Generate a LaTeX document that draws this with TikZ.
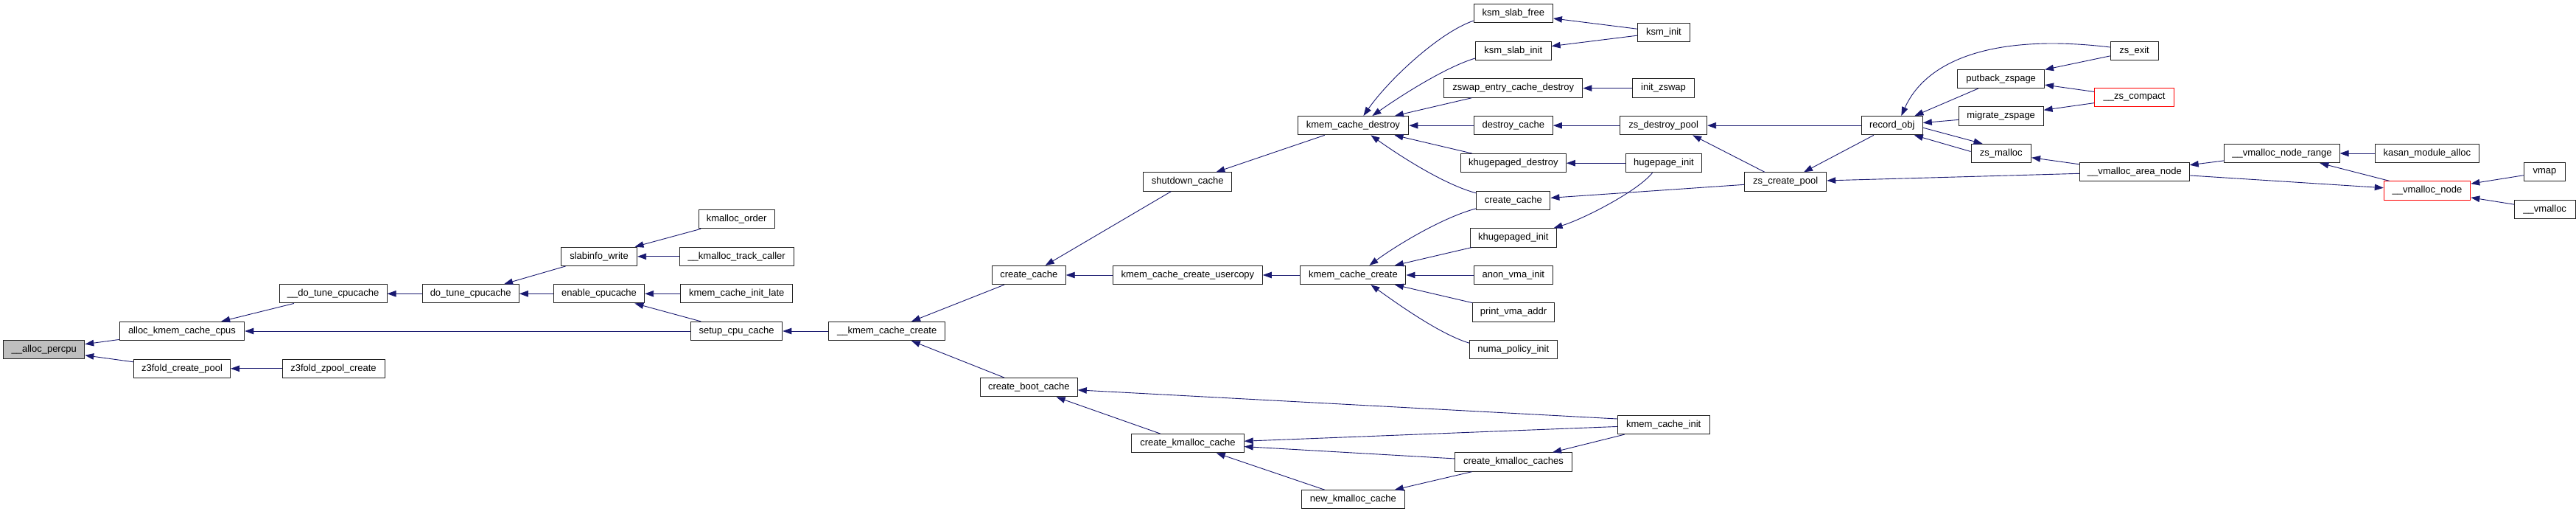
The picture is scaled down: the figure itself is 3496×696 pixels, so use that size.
\documentclass[tikz,border=0pt]{standalone}
\usepackage{fontspec}
\setmainfont{Liberation Sans}
\usetikzlibrary{arrows.meta,calc}
\definecolor{edgeblue}{HTML}{191970}
\definecolor{rootgray}{HTML}{BFBFBF}
\definecolor{borderc}{HTML}{202020}
\tikzset{
  fn/.style={draw=borderc, line width=1pt, fill=white, minimum height=25.3pt,
    inner sep=0pt, font=\fontsize{13}{15}\selectfont},
  fnred/.style={fn, draw=red},
  fnroot/.style={fn, fill=rootgray},
  edge/.style={draw=edgeblue, line width=0.9pt, {Triangle[length=12pt,width=8.5pt]}-}
}
\begin{document}
\begin{tikzpicture}[x=1pt,y=-1pt]
\useasboundingbox (0,0) rectangle (3496,696);
% nodes
\node[fnroot, minimum width=110.2pt] (ap) at (59.7,474.2) {\_\_alloc\_percpu};
\node[fn, minimum width=169.6pt] (akc) at (247,449.0) {alloc\_kmem\_cache\_cpus};
\node[fn, minimum width=131.2pt] (zcp) at (247,499.8) {z3fold\_create\_pool};
\node[fn, minimum width=145.8pt] (dtc2) at (452.1,398.3) {\_\_do\_tune\_cpucache};
\node[fn, minimum width=139pt] (zzc) at (452.5,499.8) {z3fold\_zpool\_create};
\node[fn, minimum width=131.4pt] (dtc) at (638.7,398.3) {do\_tune\_cpucache};
\node[fn, minimum width=103.3pt] (sw) at (813,347.8) {slabinfo\_write};
\node[fn, minimum width=123.3pt] (ec) at (813,398.3) {enable\_cpucache};
\node[fn, minimum width=103pt] (ko) at (999.6,297.2) {kmalloc\_order};
\node[fn, minimum width=155pt] (ktc) at (999.6,347.8) {\_\_kmalloc\_track\_caller};
\node[fn, minimum width=152.3pt] (kcil) at (999.7,398.3) {kmem\_cache\_init\_late};
\node[fn, minimum width=124.4pt] (scc) at (999.6,449.0) {setup\_cpu\_cache};
\node[fn, minimum width=157.6pt] (kcc2) at (1203.7,449.0) {\_\_kmem\_cache\_create};
\node[fn, minimum width=99.8pt] (cc1) at (1396.3,373.0) {create\_cache};
\node[fn, minimum width=132pt] (bc) at (1396.3,525.3) {create\_boot\_cache};
\node[fn, minimum width=120.5pt] (sc) at (1611.7,246.5) {shutdown\_cache};
\node[fn, minimum width=202.8pt] (kccu) at (1611.9,373.0) {kmem\_cache\_create\_usercopy};
\node[fn, minimum width=152.3pt] (ckc) at (1612,601.2) {create\_kmalloc\_cache};
\node[fn, minimum width=150.8pt] (kcd) at (1836.4,170.2) {kmem\_cache\_destroy};
\node[fn, minimum width=143.1pt] (kcc) at (1836.4,373.0) {kmem\_cache\_create};
\node[fn, minimum width=140.8pt] (nkc) at (1836.4,677.3) {new\_kmalloc\_cache};
\node[fn, minimum width=107.2pt] (ksf) at (2053.8,18.2) {ksm\_slab\_free};
\node[fn, minimum width=102.6pt] (ksi) at (2053.8,69.0) {ksm\_slab\_init};
\node[fn, minimum width=188.2pt] (zecd) at (2053.8,119.6) {zswap\_entry\_cache\_destroy};
\node[fn, minimum width=107.2pt] (dc) at (2053.8,170.2) {destroy\_cache};
\node[fn, minimum width=143.2pt] (khd) at (2053.8,221.2) {khugepaged\_destroy};
\node[fn, minimum width=100.2pt] (cc2) at (2053.8,271.8) {create\_cache};
\node[fn, minimum width=116.4pt] (khi) at (2053.8,322.4) {khugepaged\_init};
\node[fn, minimum width=107.2pt] (avi) at (2053.8,373.0) {anon\_vma\_init};
\node[fn, minimum width=110.6pt] (pva) at (2054,423.6) {print\_vma\_addr};
\node[fn, minimum width=118.6pt] (npi) at (2053.8,474.2) {numa\_policy\_init};
\node[fn, minimum width=158.8pt] (ckcs) at (2054,626.5) {create\_kmalloc\_caches};
\node[fn, minimum width=70.7pt] (ki) at (2258,43.7) {ksm\_init};
\node[fn, minimum width=84.5pt] (iz) at (2257.5,119.6) {init\_zswap};
\node[fn, minimum width=117.9pt] (zdp) at (2257.7,170.2) {zs\_destroy\_pool};
\node[fn, minimum width=102.9pt] (hi) at (2258,221.2) {hugepage\_init};
\node[fn, minimum width=124.7pt] (kci) at (2257.7,576.0) {kmem\_cache\_init};
\node[fn, minimum width=111.3pt] (zcp2) at (2423.1,246.5) {zs\_create\_pool};
\node[fn, minimum width=83pt] (ro) at (2567.8,170.2) {record\_obj};
\node[fn, minimum width=117.9pt] (pz) at (2715.6,106.8) {putback\_zspage};
\node[fn, minimum width=114.8pt] (mz) at (2715.7,157.4) {migrate\_zspage};
\node[fn, minimum width=81.5pt] (zm) at (2715.8,208.0) {zs\_malloc};
\node[fn, minimum width=64.9pt] (ze) at (2896.6,69.0) {zs\_exit};
\node[fnred, minimum width=107.8pt] (zc) at (2896.6,132.0) {\_\_zs\_compact};
\node[fn, minimum width=148.8pt] (van) at (2896.8,233.2) {\_\_vmalloc\_area\_node};
\node[fn, minimum width=156.1pt] (vnr) at (3097,208.0) {\_\_vmalloc\_node\_range};
\node[fn, minimum width=140.8pt] (kma) at (3293.8,208.0) {kasan\_module\_alloc};
\node[fnred, minimum width=117.5pt] (vn) at (3294,258.5) {\_\_vmalloc\_node};
\node[fn, minimum width=55.5pt] (vmap) at (3453.5,233.2) {vmap};
\node[fn, minimum width=82.7pt] (vm) at (3453.7,283.8) {\_\_vmalloc};
% edges
\draw[edge] (ap) -- (akc);
\draw[edge] (ap) -- (zcp);
\draw[edge] (akc) -- (dtc2);
\draw[edge] (akc) -- (scc);
\draw[edge] (zcp) -- (zzc);
\draw[edge] (dtc2) -- (dtc);
\draw[edge] (dtc) -- (sw);
\draw[edge] (dtc) -- (ec);
\draw[edge] (sw) -- (ko);
\draw[edge] (sw) -- (ktc);
\draw[edge] (ec) -- (kcil);
\draw[edge] (ec) -- (scc);
\draw[edge] (scc) -- (kcc2);
\draw[edge] (kcc2) -- (cc1);
\draw[edge] (kcc2) -- (bc);
\draw[edge] (cc1) -- (sc);
\draw[edge] (cc1) -- (kccu);
\draw[edge] (sc) -- (kcd);
\draw[edge] (kccu) -- (kcc);
\draw[edge] (bc) -- ($(kci.west)+(0,-8)$);
\draw[edge] (bc) -- (ckc);
\draw[edge] (ckc) -- (kci);
\draw[edge] (ckc) -- (ckcs);
\draw[edge] (ckc) -- (nkc);
\draw[edge] (nkc) -- (ckcs);
\draw[edge] (ckcs) -- (kci);
\draw[edge] ($(kcd.north)+(14,0)$) .. controls +(35,-50) and +(-45,15) .. ($(ksf.west)+(0,10)$);
\draw[edge] ($(kcd.north)+(26,0)$) .. controls +(40,-28) and +(-40,12) .. ($(ksi.west)+(0,10)$);
\draw[edge] (kcd) -- (zecd);
\draw[edge] (kcd) -- (dc);
\draw[edge] (kcd) -- (khd);
\draw[edge] ($(kcd.south)+(24,0)$) .. controls +(35,25) and +(-45,-12) .. ($(cc2.west)+(0,-10)$);
\draw[edge] ($(kcc.north)+(22,0)$) .. controls +(38,-28) and +(-45,12) .. ($(cc2.west)+(0,11)$);
\draw[edge] (kcc) -- (khi);
\draw[edge] (kcc) -- (avi);
\draw[edge] (kcc) -- (pva);
\draw[edge] ($(kcc.south)+(24,0)$) .. controls +(35,25) and +(-40,-12) .. ($(npi.west)+(0,-9)$);
\draw[edge] (ksf) -- (ki);
\draw[edge] (ksi) -- (ki);
\draw[edge] (zecd) -- (iz);
\draw[edge] (dc) -- (zdp);
\draw[edge] (khd) -- (hi);
\draw[edge] ($(khi.north east)+(-4,0)$) .. controls +(40,-12) and +(-20,25) .. ($(hi.south)+(-15.5,0)$);
\draw[edge] (cc2) -- (zcp2);
\draw[edge] (zdp) -- (ro);
\draw[edge] ($(zdp.south east)+(-20,0)$) -- ($(zcp2.north west)+(28,0)$);
\draw[edge] (zcp2) -- (ro);
\draw[edge] (zcp2) -- (van);
\draw[edge] ($(ro.north)+(12.5,0)$) .. controls +(34.8,-77.6) and +(-154.2,-18.5) .. ($(ze.west)+(0,-5)$);
\draw[edge] (ro) -- (pz);
\draw[edge] (ro) -- (mz);
\draw[edge] ($(zm.north west)+(16,0)$) -- ($(ro.east)+(0,3)$);
\draw[edge] ($(ro.south east)+(-12,0)$) -- ($(zm.west)+(0,-2.5)$);
\draw[edge] (pz) -- (ze);
\draw[edge] (pz) -- (zc);
\draw[edge] (mz) -- (zc);
\draw[edge] (zm) -- (van);
\draw[edge] (van) -- (vnr);
\draw[edge] (vn) -- (van);
\draw[edge] (vnr) -- (kma);
\draw[edge] (vnr) -- (vn);
\draw[edge] (vn) -- (vmap);
\draw[edge] (vn) -- (vm);
\end{tikzpicture}
\end{document}
